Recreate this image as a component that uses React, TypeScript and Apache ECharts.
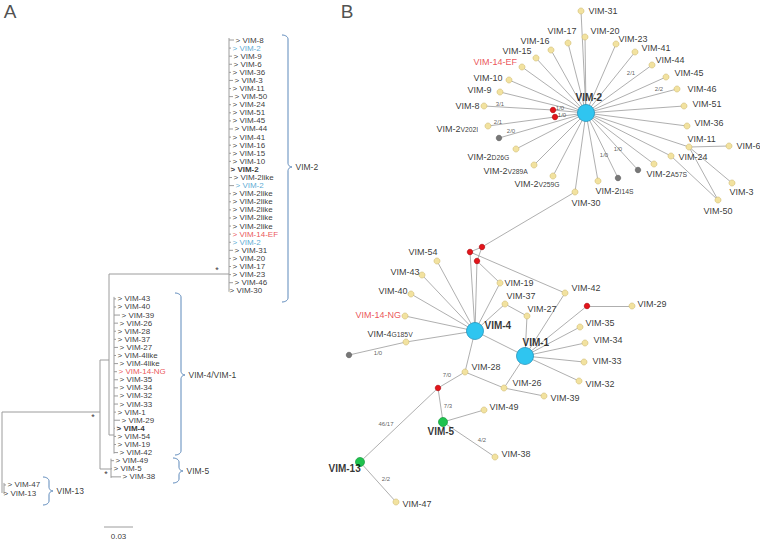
import { useEffect, useRef } from "react";
import * as echarts from "echarts";

const FONT = "Liberation Sans, Arial, Helvetica, sans-serif";

// ---------------- Panel A : tree ----------------
const treeLeaves = [
  "VIM-8", "VIM-2", "VIM-9", "VIM-6", "VIM-36", "VIM-3", "VIM-11", "VIM-50", "VIM-24", "VIM-51",
  "VIM-45", "VIM-44", "VIM-41", "VIM-16", "VIM-15", "VIM-10", "VIM-2", "VIM-2like", "VIM-2", "VIM-2like",
  "VIM-2like", "VIM-2like", "VIM-2like", "VIM-2like", "VIM-14-EF", "VIM-2", "VIM-31", "VIM-20", "VIM-17", "VIM-23",
  "VIM-46", "VIM-30",
  "VIM-43", "VIM-40", "VIM-39", "VIM-26", "VIM-28", "VIM-37", "VIM-27", "VIM-4like", "VIM-4like", "VIM-14-NG",
  "VIM-35", "VIM-34", "VIM-32", "VIM-33", "VIM-1", "VIM-29", "VIM-4", "VIM-54", "VIM-19", "VIM-42",
  "VIM-49", "VIM-5", "VIM-38",
  "VIM-47", "VIM-13",
];
const treeLeafStyle: Record<number, string> = { 1: "blue", 16: "bold", 18: "blue", 24: "red", 25: "blue", 41: "red", 48: "bold" };
const treeLeafX = [
  235, 232, 233, 233, 232, 234, 232, 234, 232, 232, 232, 234, 232, 232, 232, 232, 230, 233, 235, 232,
  232, 232, 232, 232, 232, 232, 234, 232, 232, 232, 234, 229,
  117, 117, 121, 119, 117, 117, 119, 117, 119, 118, 119, 119, 119, 119, 117, 121, 116, 117, 117, 119,
  115, 113, 122,
  7, 3,
];
const ROW_Y0 = 40;
const ROW_STEP = 8.09;
const rowY = (i: number) => ROW_Y0 + ROW_STEP * i;

// clades: [label, firstRow, lastRow, stemX, braceX, braceTop, braceBottom, braceMid]
const clades: [string, number, number, number, number, number, number, number][] = [
  ["VIM-2", 0, 31, 229, 282, 35, 302, 167],
  ["VIM-4/VIM-1", 32, 51, 114, 175, 293, 455, 375],
  ["VIM-5", 52, 54, 111, 173, 458, 483, 471],
  ["VIM-13", 55, 56, 4, 43, 477, 505, 491],
];
// backbone of the tree (elbows)
const treeBranches: number[][][] = [
  [[2, 493], [2, 412], [100, 412]],
  [[111, 469], [100, 469], [100, 360], [109, 360]],
  [[229, 274], [109, 274], [109, 435], [114, 435]],
];
const supportStars: [number, number][] = [[217, 270], [93, 417], [106, 474]];
const scaleBar = { label: "0.03", x0: 104, x1: 133, y: 527 };

// ---------------- Panel B : network ----------------
const netKinds: Record<string, string> = {
  "VIM-2": "hub", "VIM-4": "hub", "VIM-1": "hub", "VIM-5": "green", "VIM-13": "green",
  r1: "red", r2: "red", rA: "red", rB: "red", rC: "red", rD: "red", rE: "red",
  g1: "gray", g2: "gray", g3: "gray", g4: "gray",
};
const netLayout: [string, number, number][] = [
  ["VIM-2", 586, 113], ["VIM-31", 581, 11], ["VIM-20", 585, 37], ["VIM-17", 568, 43], ["VIM-16", 551, 50],
  ["VIM-15", 536, 58], ["VIM-14-EF", 522, 67], ["VIM-10", 509, 80], ["VIM-9", 500, 92], ["VIM-8", 484, 106],
  ["r1", 553, 110], ["r2", 555, 117], ["VIM-2V202I", 488, 126], ["g1", 499, 138], ["VIM-2D26G", 516, 149],
  ["VIM-2V289A", 534, 165], ["VIM-2V259G", 553, 176], ["VIM-30", 575, 192], ["VIM-2I14S", 598, 181],
  ["g2", 618, 178], ["g3", 638, 170], ["VIM-2A57S", 654, 164], ["VIM-24", 671, 156], ["VIM-11", 689, 147],
  ["VIM-6", 729, 146], ["VIM-3", 732, 183], ["VIM-50", 718, 200], ["VIM-36", 687, 126], ["VIM-51", 684, 106],
  ["VIM-46", 677, 89], ["VIM-45", 666, 77], ["VIM-44", 652, 65], ["VIM-41", 635, 52], ["VIM-23", 616, 44],
  ["rA", 482, 247], ["rB", 470, 252], ["rC", 477, 261], ["VIM-4", 475, 331], ["VIM-54", 437, 261],
  ["VIM-43", 422, 275], ["VIM-40", 411, 294], ["VIM-14-NG", 405, 316], ["VIM-4G185V", 406, 342], ["g4", 349, 355],
  ["VIM-19", 500, 283], ["VIM-37", 505, 304], ["VIM-27", 527, 316], ["VIM-42", 565, 293], ["VIM-1", 525, 356],
  ["rD", 587, 306], ["VIM-29", 632, 306], ["VIM-35", 580, 327], ["VIM-34", 585, 343], ["VIM-33", 584, 362],
  ["VIM-32", 579, 381], ["VIM-28", 465, 372], ["VIM-26", 504, 388], ["VIM-39", 544, 396], ["rE", 438, 388],
  ["VIM-5", 443, 422], ["VIM-49", 484, 410], ["VIM-38", 495, 457], ["VIM-13", 360, 462], ["VIM-47", 396, 502],
];
const netEdges: [string, string][] = [
  ["VIM-2", "VIM-31"], ["VIM-2", "VIM-20"], ["VIM-2", "VIM-17"], ["VIM-2", "VIM-16"], ["VIM-2", "VIM-15"],
  ["VIM-2", "VIM-14-EF"], ["VIM-2", "VIM-10"], ["VIM-2", "VIM-9"], ["VIM-2", "r1"], ["VIM-2", "r2"],
  ["r1", "VIM-8"], ["r2", "VIM-2V202I"], ["VIM-2", "g1"], ["VIM-2", "VIM-2D26G"], ["VIM-2", "VIM-2V289A"],
  ["VIM-2", "VIM-2V259G"], ["VIM-2", "VIM-30"], ["VIM-2", "VIM-2I14S"], ["VIM-2", "g2"], ["VIM-2", "g3"],
  ["VIM-2", "VIM-2A57S"], ["VIM-2", "VIM-24"], ["VIM-2", "VIM-11"], ["VIM-2", "VIM-36"], ["VIM-2", "VIM-51"],
  ["VIM-2", "VIM-46"], ["VIM-2", "VIM-45"], ["VIM-2", "VIM-44"], ["VIM-2", "VIM-41"], ["VIM-2", "VIM-23"],
  ["VIM-11", "VIM-6"], ["VIM-11", "VIM-3"], ["VIM-11", "VIM-50"], ["VIM-24", "VIM-50"],
  ["VIM-30", "rA"], ["rA", "rB"], ["rA", "rC"], ["rB", "VIM-4"], ["rC", "VIM-4"], ["rB", "VIM-42"], ["rC", "VIM-19"],
  ["VIM-4", "VIM-54"], ["VIM-4", "VIM-43"], ["VIM-4", "VIM-40"], ["VIM-4", "VIM-14-NG"], ["VIM-4", "VIM-4G185V"],
  ["VIM-4G185V", "g4"], ["VIM-4", "VIM-19"], ["VIM-4", "VIM-37"], ["VIM-37", "VIM-27"], ["VIM-27", "VIM-1"],
  ["VIM-4", "VIM-1"], ["VIM-4", "VIM-28"], ["VIM-1", "VIM-42"], ["VIM-1", "rD"], ["rD", "VIM-29"],
  ["VIM-1", "VIM-35"], ["VIM-1", "VIM-34"], ["VIM-1", "VIM-33"], ["VIM-1", "VIM-32"], ["VIM-1", "VIM-26"],
  ["VIM-28", "VIM-26"], ["VIM-26", "VIM-39"], ["VIM-28", "rE"], ["rE", "VIM-5"], ["rE", "VIM-13"],
  ["VIM-5", "VIM-49"], ["VIM-5", "VIM-38"], ["VIM-13", "VIM-47"],
];
// node label texts: [text, x, y, style]  ("|" splits the subscript part)
const netLabels: [string, number, number, string][] = [
  ["VIM-2", 575, 97, "bold"], ["VIM-31", 588, 11, ""], ["VIM-20", 590, 31, ""], ["VIM-17", 547, 31, ""],
  ["VIM-16", 520, 41, ""], ["VIM-15", 502, 51, ""], ["VIM-14-EF", 473, 62, "red"], ["VIM-10", 473, 78, ""],
  ["VIM-9", 467, 90, ""], ["VIM-8", 455, 106, ""], ["VIM-2|V202I", 436, 128, "sub"], ["VIM-2|D26G", 467, 156, "sub"],
  ["VIM-2|V289A", 483, 170, "sub"], ["VIM-2|V259G", 514, 183, "sub"], ["VIM-30", 571, 203, ""],
  ["VIM-2|I14S", 595, 190, "sub"], ["VIM-2|A57S", 646, 173, "sub"], ["VIM-24", 678, 157, ""], ["VIM-11", 687, 139, ""],
  ["VIM-6", 736, 146, ""], ["VIM-3", 729, 192, ""], ["VIM-50", 703, 211, ""], ["VIM-36", 694, 123, ""],
  ["VIM-51", 692, 104, ""], ["VIM-46", 687, 89, ""], ["VIM-45", 674, 73, ""], ["VIM-44", 655, 60, ""],
  ["VIM-41", 641, 48, ""], ["VIM-23", 618, 39, ""],
  ["VIM-54", 408, 252, ""], ["VIM-43", 390, 272, ""], ["VIM-40", 378, 291, ""], ["VIM-14-NG", 355, 315, "red"],
  ["VIM-4|G185V", 367, 333, "sub"], ["VIM-4", 484, 325, "bold"], ["VIM-19", 504, 283, ""], ["VIM-37", 506, 296, ""],
  ["VIM-27", 527, 309, ""], ["VIM-42", 571, 288, ""], ["VIM-29", 637, 304, ""], ["VIM-35", 585, 323, ""],
  ["VIM-34", 593, 340, ""], ["VIM-33", 592, 361, ""], ["VIM-32", 585, 384, ""], ["VIM-1", 522, 342, "bold"],
  ["VIM-28", 471, 367, ""], ["VIM-26", 512, 383, ""], ["VIM-39", 550, 398, ""], ["VIM-5", 427, 431, "bold"],
  ["VIM-49", 489, 407, ""], ["VIM-38", 501, 454, ""], ["VIM-13", 328, 468, "bold"], ["VIM-47", 402, 504, ""],
];
// edge (mutation) labels: [text, cx, cy]
const edgeLabels: [string, number, number][] = [
  ["3/1", 500, 104], ["2/1", 498, 122], ["2/0", 511, 131], ["1/0", 560, 108], ["1/0", 562, 115],
  ["2/1", 631, 73], ["2/2", 659, 89], ["1/0", 604, 155], ["1/0", 618, 149], ["1/0", 378, 353],
  ["7/0", 447, 375], ["7/3", 448, 406], ["46/17", 386, 424], ["4/2", 482, 440], ["2/2", 386, 479],
];
const panelLetters: [string, number, number][] = [["A", 10, 11], ["B", 347, 11]];

const kindStyle: Record<string, { size: number; color: string; border: string }> = {
  hub: { size: 17, color: "#2fc5f0", border: "#1b8db6" },
  green: { size: 9, color: "#1fc24e", border: "#169a3c" },
  red: { size: 5.5, color: "#e3151b", border: "#b00d12" },
  gray: { size: 5.5, color: "#777777", border: "#666666" },
  leaf: { size: 6, color: "#f2e29f", border: "#d6c27a" },
};

function bracePoints(x0: number, yt: number, yb: number, ym: number, w: number, tip: number, r: number) {
  const pts: number[][] = [];
  const arc = (cx: number, cy: number, rx: number, ry: number, a0: number, a1: number) => {
    for (let k = 0; k <= 8; k++) {
      const a = ((a0 + ((a1 - a0) * k) / 8) * Math.PI) / 180;
      pts.push([cx + rx * Math.cos(a), cy + ry * Math.sin(a)]);
    }
  };
  arc(x0, yt + r, w, r, -90, 0);
  arc(x0 + w + tip, ym - r, tip, r, 180, 90);
  arc(x0 + w + tip, ym + r, tip, r, 270, 180);
  arc(x0, yb - r, w, r, 0, 90);
  return pts;
}

function textSeries(data: any[], label: any, z = 10) {
  return {
    type: "scatter",
    symbolSize: 1,
    silent: true,
    itemStyle: { color: "rgba(0,0,0,0)" },
    z,
    data,
    label: { show: true, position: "right", distance: 0, formatter: "{b}", fontFamily: FONT, color: "#000", ...label },
  };
}

function buildOption() {
  // tree branch polylines
  const treeLines: any[] = treeBranches.map((c) => ({ coords: c }));
  clades.forEach(([, a, b, sx]) => {
    treeLines.push({ coords: [[sx, rowY(a) - 2], [sx, rowY(b) + 1]] });
    for (let i = a; i <= b; i++) {
      if (treeLeafX[i] - 1 > sx + 0.5) treeLines.push({ coords: [[sx, rowY(i)], [treeLeafX[i] - 1, rowY(i)]] });
    }
  });
  treeLines.push({ coords: [[scaleBar.x0, scaleBar.y], [scaleBar.x1, scaleBar.y]] });

  const braceLines = clades.map(([, , , , bx, bt, bb, bm]) => ({ coords: bracePoints(bx, bt, bb, bm, 6, 4, 4) }));
  const braceText = clades.map(([name, , , , bx, , , bm]) => ({ name, value: [bx + 13, bm] }));

  const leafText = treeLeaves.map((n, i) => {
    const s = treeLeafStyle[i];
    return {
      name: "> " + n,
      value: [treeLeafX[i], rowY(i)],
      label: {
        color: s === "blue" ? "#2f93c8" : s === "red" ? "#e5282c" : "#000",
        fontWeight: s === "bold" ? "bold" : "normal",
      },
    };
  });

  const nodes = netLayout.map(([id, x, y]) => {
    const st = kindStyle[netKinds[id] || "leaf"];
    return {
      name: id,
      value: [x, y],
      symbolSize: st.size,
      itemStyle: { color: st.color, borderColor: st.border, borderWidth: 0.7 },
    };
  });
  const links = netEdges.map(([s, t]) => ({ source: s, target: t }));

  const netText = netLabels.map(([txt, x, y, st]) => {
    let formatter = "{b}";
    if (st === "sub") {
      const [a, b] = txt.split("|");
      formatter = `{m|${a}}{s|${b}}`;
    }
    return {
      name: txt.replace("|", ""),
      value: [x, y],
      label: {
        formatter,
        fontSize: st === "bold" ? 10 : 9,
        fontWeight: st === "bold" ? "bold" : "normal",
        color: st === "red" ? "#e5282c" : "#000",
        rich: {
          m: { fontSize: 9, fontFamily: FONT, color: "#000", verticalAlign: "bottom", lineHeight: 10 },
          s: { fontSize: 6.8, fontFamily: FONT, color: "#000", verticalAlign: "bottom", lineHeight: 8 },
        },
      },
    };
  });
  const edgeText = edgeLabels.map(([t, x, y]) => ({ name: t, value: [x, y] }));
  const starText = supportStars.map(([x, y]) => ({ name: "*", value: [x, y] }));

  return {
    animation: false,
    backgroundColor: "#ffffff",
    grid: { left: 0, right: 0, top: 0, bottom: 0 },
    xAxis: { type: "value", min: 0, max: 760, show: false },
    yAxis: { type: "value", min: 0, max: 540, inverse: true, show: false },
    series: [
      {
        type: "lines",
        coordinateSystem: "cartesian2d",
        polyline: true,
        silent: true,
        lineStyle: { color: "#9c9c9c", width: 1, opacity: 1 },
        data: treeLines,
        z: 2,
      },
      {
        type: "lines",
        coordinateSystem: "cartesian2d",
        polyline: true,
        silent: true,
        lineStyle: { color: "#5d89bb", width: 1, opacity: 1 },
        data: braceLines,
        z: 2,
      },
      textSeries(leafText, { fontSize: 8 }),
      textSeries(braceText, { fontSize: 8.5 }),
      textSeries(starText, { position: "inside", fontSize: 9 }),
      textSeries([{ name: scaleBar.label, value: [(scaleBar.x0 + scaleBar.x1) / 2, scaleBar.y + 9] }], {
        position: "inside",
        fontSize: 8,
      }),
      {
        type: "graph",
        coordinateSystem: "cartesian2d",
        layout: "none",
        silent: true,
        data: nodes,
        links,
        lineStyle: { color: "#9a9a9a", width: 0.8, opacity: 1, curveness: 0 },
        label: { show: false },
        z: 3,
      },
      textSeries(netText, { fontSize: 9 }),
      textSeries(edgeText, { position: "inside", fontSize: 6, color: "#333" }),
      textSeries(
        panelLetters.map(([t, x, y]) => ({ name: t, value: [x, y] })),
        { position: "inside", fontSize: 19, color: "#222" }
      ),
    ],
  };
}

export default function App() {
  const ref = useRef<HTMLDivElement>(null);
  useEffect(() => {
    if (!ref.current) return;
    const chart = echarts.init(ref.current, undefined, { renderer: "svg" });
    chart.setOption(buildOption() as any);
    return () => chart.dispose();
  }, []);
  return (
    <div
      ref={ref}
      style={{ position: "fixed", left: 0, top: 0, width: 760, height: 540, background: "#fff" }}
    />
  );
}
